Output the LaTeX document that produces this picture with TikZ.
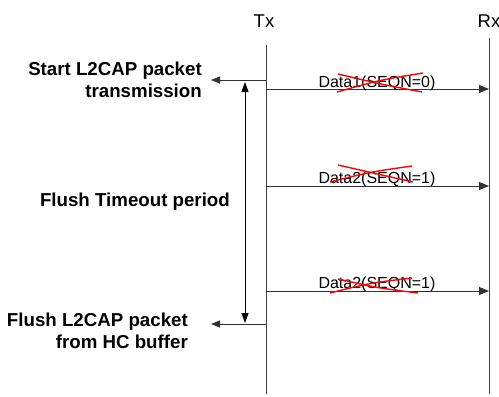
\documentclass[tikz,border=0pt]{standalone}
\usepackage{fontspec}
\setmainfont{Liberation Sans}
\usetikzlibrary{arrows.meta}
\begin{document}
\begin{tikzpicture}[x=1pt,y=-1pt,
  lifeline/.style={draw=black!75, line width=0.9pt},
  msg/.style={draw=black!80, line width=0.9pt, -{Triangle[length=10pt,width=8pt]}},
  evt/.style={draw=black!80, line width=0.9pt, -{Triangle[length=9pt,width=7pt]}},
  period/.style={draw=black, line width=0.9pt, {Triangle[length=10pt,width=7pt]}-{Triangle[length=10pt,width=7pt]}},
  strike/.style={draw=red, line width=1.4pt},
  head/.style={font=\fontsize{18.5}{22}\selectfont, anchor=base, inner sep=0pt},
  side/.style={font=\bfseries\fontsize{18.7}{22}\selectfont, align=right, anchor=east, inner sep=0pt},
  datalbl/.style={font=\fontsize{16}{19}\selectfont, anchor=base, inner sep=0pt}]
\useasboundingbox (0,0) rectangle (499,397);

% lifeline headings
\node[head] (tx) at (264,27) {Tx};
\node[head] (rx) at (489,27) {Rx};

% lifelines
\coordinate (txtop) at (266,45);
\coordinate (txbot) at (266,394);
\coordinate (rxtop) at (489,38);
\coordinate (rxbot) at (489,394);
\draw[lifeline] (txtop) -- (txbot);
\draw[lifeline] (rxtop) -- (rxbot);

% events on the Tx side
\coordinate (startTx) at (266,80);
\coordinate (startEnd) at (211,80);
\coordinate (flushTx) at (266,324);
\coordinate (flushEnd) at (211,324);
\draw[evt] (startTx) -- (startEnd);
\draw[evt] (flushTx) -- (flushEnd);

\node[side] (start) at (202,80) {Start L2CAP packet\\transmission};
\node[side] (flush) at (188,331) {Flush L2CAP packet\\from HC buffer};
\node[side] (timeout) at (230,202) {Flush Timeout period};

% flush timeout span
\coordinate (perTop) at (245,82);
\coordinate (perBot) at (245,323);
\draw[period] (perTop) -- (perBot);

% data packets Tx -> Rx
\coordinate (m1a) at (266,89);  \coordinate (m1b) at (489,89);
\coordinate (m2a) at (266,186); \coordinate (m2b) at (489,186);
\coordinate (m3a) at (266,291); \coordinate (m3b) at (489,291);
\draw[msg] (m1a) -- (m1b);
\draw[msg] (m2a) -- (m2b);
\draw[msg] (m3a) -- (m3b);

\node[datalbl] (d1) at (377,87) {Data1(SEQN=0)};
\node[datalbl] (d2) at (377,183) {Data2(SEQN=1)};
\node[datalbl] (d3) at (377,288) {Data2(SEQN=1)};

% lost packets crossed out
\draw[strike] (337,92) .. controls (380,80) .. (423,73);
\draw[strike] (338,74) .. controls (380,84) .. (422,92);
\draw[strike] (330,182) .. controls (370,172) .. (412,166);
\draw[strike] (338,165) .. controls (376,174) .. (413,182);
\draw[strike] (330,293) .. controls (370,283) .. (412,278);
\draw[strike] (338,279) .. controls (378,288) .. (418,293);
\end{tikzpicture}
\end{document}
